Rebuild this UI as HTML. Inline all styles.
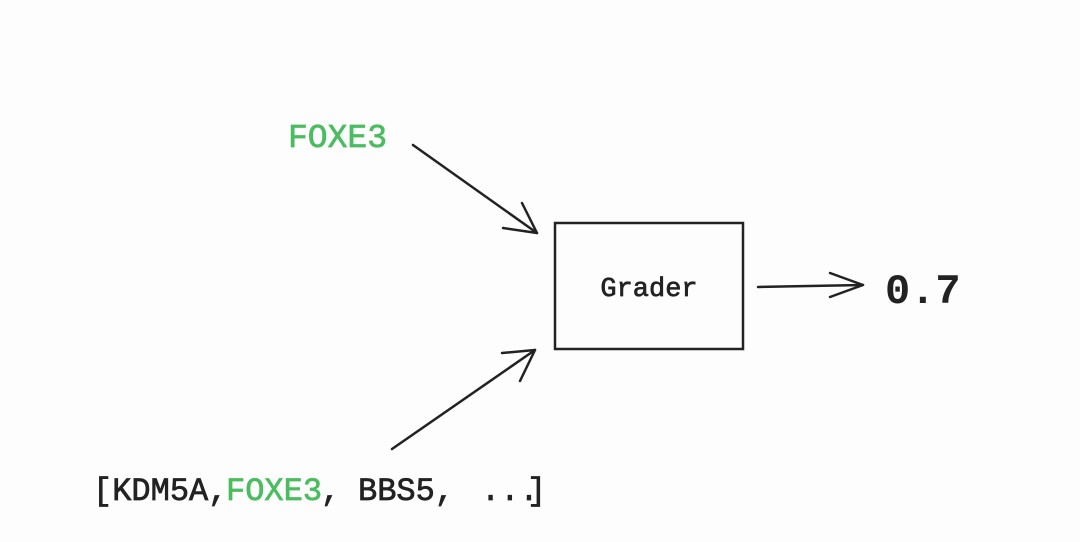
<!DOCTYPE html>
<html><head><style>body{margin:0;background:#fdfdfd}</style></head><body>
<svg width="1080" height="537" viewBox="0 0 1080 537" xmlns="http://www.w3.org/2000/svg">
<rect width="1080" height="537" fill="#fdfdfd"/>
<g font-family="'Liberation Mono', monospace" fill="#222" stroke-width="0.7">
<text x="288" y="147" font-size="33" fill="#4cbc60" stroke="#4cbc60">FOXE3</text>
<text y="500" font-size="32" stroke="#222">
<tspan x="93">[KDM5A,</tspan><tspan x="226" fill="#4cbc60" stroke="#4cbc60">FOXE3</tspan><tspan x="321">,</tspan><tspan x="358">BBS5,</tspan><tspan x="481">...</tspan><tspan x="527">]</tspan>
</text>
<text x="649" y="296" font-size="27" text-anchor="middle" stroke="#222">Grader</text>
<text x="885" y="303" font-size="42" font-weight="bold">0.7</text>
</g>
<rect x="555" y="223" width="188" height="126" fill="none" stroke="#222" stroke-width="2.5"/>
<g stroke="#222" stroke-width="2.5" fill="none" stroke-linecap="round" stroke-linejoin="round">
<path d="M413 145 L537 233"/><path d="M503 228 L537 233 L522 203"/>
<path d="M392 449 L535 350"/><path d="M502 353 L535 350 L520 381"/>
<path d="M758 287 L863 285"/><path d="M830 273 L863 285 L830 297"/>
</g>
</svg>
</body></html>
